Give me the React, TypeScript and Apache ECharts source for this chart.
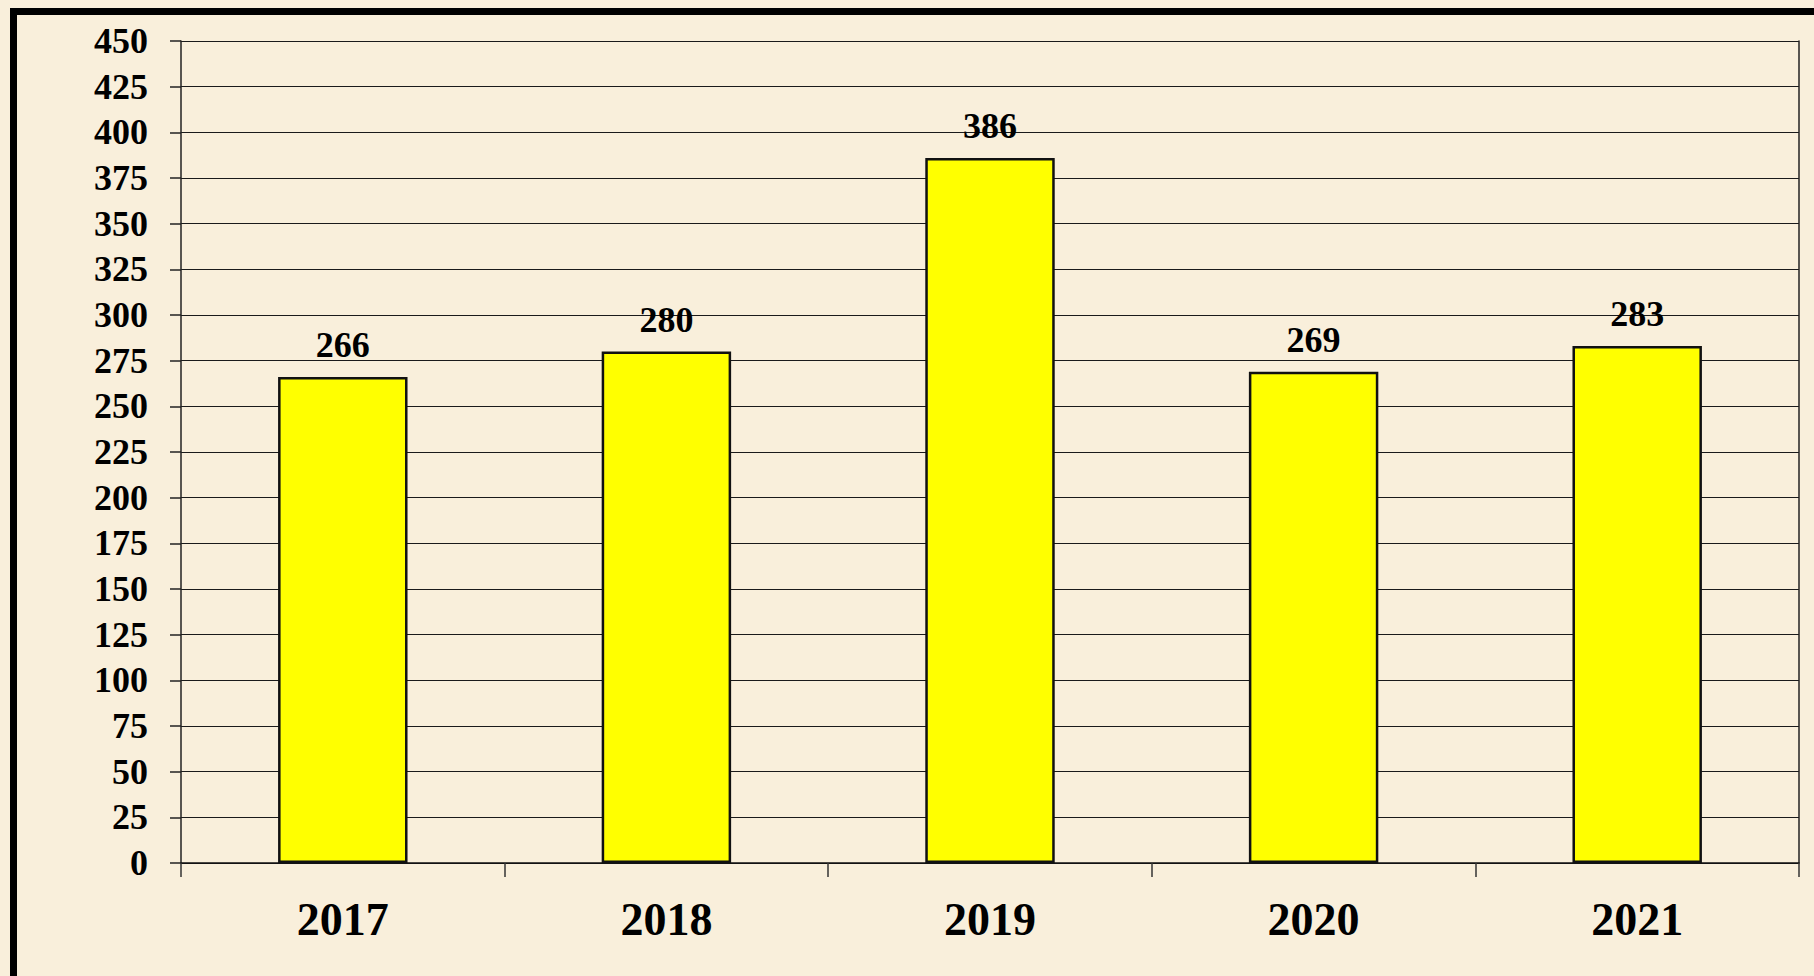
import React, { useEffect, useRef } from "react";
import * as echarts from "echarts";

const categories = ["2017", "2018", "2019", "2020", "2021"];
const values = [266, 280, 386, 269, 283];
const yMin = 0;
const yMax = 450;
const yInterval = 25;

const FONT = '"Liberation Serif", "Times New Roman", serif';

export default function App() {
  const ref = useRef<HTMLDivElement>(null);

  useEffect(() => {
    document.body.style.margin = "0";
    if (!ref.current) return;
    const chart = echarts.init(ref.current, null, { renderer: "svg" });
    chart.setOption({
      animation: false,
      backgroundColor: "#F9EFDB",
      graphic: [
        {
          type: "rect",
          shape: { x: 13.5, y: 11.5, width: 1900, height: 1100 },
          style: { fill: "none", stroke: "#000", lineWidth: 7 },
          silent: true,
        },
      ],
      grid: { left: 181, top: 41, right: 15, bottom: 113, containLabel: false },
      xAxis: [
        {
          type: "category",
          data: categories,
          axisLine: { show: true, lineStyle: { color: "#111", width: 1.5 } },
          axisTick: { show: true, length: 14, lineStyle: { color: "#333", width: 1.5 } },
          axisLabel: {
            color: "#000",
            fontFamily: FONT,
            fontWeight: "bold",
            fontSize: 46,
            margin: 33,
          },
          splitLine: { show: false },
        },
      ],
      yAxis: [
        {
          type: "value",
          min: yMin,
          max: yMax,
          interval: yInterval,
          axisLine: { show: true, lineStyle: { color: "#222", width: 1.5 } },
          axisTick: { show: true, length: 11, lineStyle: { color: "#222", width: 1.5 } },
          axisLabel: {
            color: "#000",
            fontFamily: FONT,
            fontWeight: "bold",
            fontSize: 36,
            margin: 33,
          },
          splitLine: { show: true, lineStyle: { color: "#1a1a1a", width: 1.2 } },
        },
        {
          type: "value",
          position: "right",
          min: yMin,
          max: yMax,
          interval: yInterval,
          axisLine: { show: true, lineStyle: { color: "#222", width: 1.5 } },
          axisTick: { show: false },
          axisLabel: { show: false },
          splitLine: { show: false },
        },
      ],
      series: [
        {
          type: "bar",
          data: values,
          barWidth: "40%",
          itemStyle: { color: "#FFFF00", borderColor: "#111", borderWidth: 2.5 },
          label: {
            show: true,
            position: "top",
            distance: 14,
            color: "#000",
            fontFamily: FONT,
            fontWeight: "bold",
            fontSize: 36,
          },
        },
      ],
    });
    return () => chart.dispose();
  }, []);

  return <div ref={ref} style={{ width: 1814, height: 976 }} />;
}
